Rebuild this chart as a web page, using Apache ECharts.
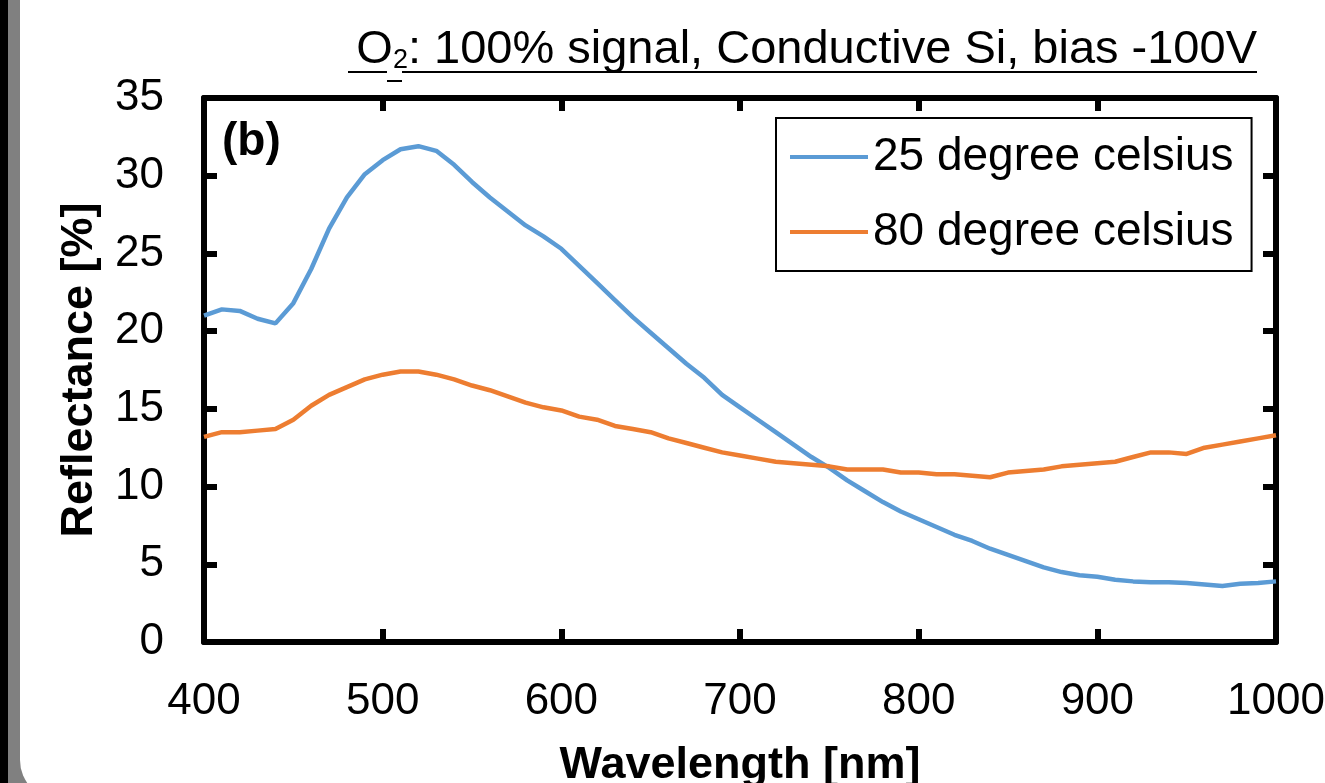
<!DOCTYPE html>
<html>
<head>
<meta charset="utf-8">
<script src="https://cdn.jsdelivr.net/npm/echarts@6/dist/echarts.min.js"></script>
<style>
html,body{margin:0;padding:0;background:#000;}
#chart{width:1325px;height:783px;}
</style>
</head>
<body>
<div id="chart"></div>
<script>
// wavelength [nm]
var wavelength = [400,410,420,430,440,450,460,470,480,490,500,510,520,530,540,550,560,570,580,590,
  600,610,620,630,640,650,660,670,680,690,700,710,720,730,740,750,760,770,780,790,
  800,810,820,830,840,850,860,870,880,890,900,910,920,930,940,950,960,970,980,990,1000];
// reflectance [%], 25 degree
var refl25 = [21.0,21.4,21.3,20.8,20.5,21.8,24.0,26.6,28.6,30.1,31.0,31.7,31.9,31.6,30.7,29.6,28.6,27.7,26.8,26.1,
  25.3,24.2,23.1,22.0,20.9,19.9,18.9,17.9,17.0,15.9,15.1,14.3,13.5,12.7,11.9,11.2,10.4,9.7,9.0,8.4,
  7.9,7.4,6.9,6.5,6.0,5.6,5.2,4.8,4.5,4.3,4.2,4.0,3.9,3.85,3.85,3.8,3.7,3.6,3.75,3.8,3.9];
// reflectance [%], 80 degree
var refl80 = [13.2,13.5,13.5,13.6,13.7,14.3,15.2,15.9,16.4,16.9,17.2,17.4,17.4,17.2,16.9,16.5,16.2,15.8,15.4,15.1,
  14.9,14.5,14.3,13.9,13.7,13.5,13.1,12.8,12.5,12.2,12.0,11.8,11.6,11.5,11.4,11.3,11.1,11.1,11.1,10.9,
  10.9,10.8,10.8,10.7,10.6,10.9,11.0,11.1,11.3,11.4,11.5,11.6,11.9,12.2,12.2,12.1,12.5,12.7,12.9,13.1,13.3];
var seriesNames = ['25 degree celsius','80 degree celsius'];

var toPairs = function(ys){
  var out = [];
  for (var i = 0; i < wavelength.length; i++) out.push([wavelength[i], ys[i]]);
  return out;
};

var FONT = 'Liberation Sans, Arial, sans-serif';
var chart = echarts.init(document.getElementById('chart'));

var axisCommon = {
  type: 'value',
  axisLine: {show: true, onZero: false, lineStyle: {color: '#000', width: 6}},
  axisTick: {show: true, inside: true, length: 13, lineStyle: {color: '#000', width: 6}},
  splitLine: {show: false}
};

option = {
  backgroundColor: 'transparent',
  animation: false,
  textStyle: {fontFamily: FONT},
  title: [
    {
      text: '{o|O}{sub|2}{o|: 100% signal, Conductive Si, bias -100V}',
      right: 68, top: 22, padding: 0,
      textStyle: {
        fontWeight: 'normal',
        rich: {
          o: {fontSize: 47, fontWeight: 'normal', fontFamily: FONT, color: '#000', lineHeight: 52, verticalAlign: 'bottom'},
          sub: {fontSize: 27, fontWeight: 'normal', fontFamily: FONT, color: '#000', lineHeight: 26, verticalAlign: 'bottom'}
        }
      }
    },
    {
      text: '(b)', left: 222, top: 119, padding: 0,
      textStyle: {fontSize: 46, fontWeight: 'bold', fontFamily: FONT, color: '#000'}
    }
  ],
  grid: {left: 204, right: 49, top: 98, bottom: 141, containLabel: false, outerBoundsMode: 'none'},
  legend: {
    data: seriesNames,
    orient: 'vertical',
    left: 776, top: 118,
    padding: [14, 18, 14, 14],
    borderColor: '#000', borderWidth: 2,
    backgroundColor: '#fff',
    icon: 'rect', itemWidth: 78, itemHeight: 4, itemGap: 25,
    textStyle: {fontSize: 46, fontFamily: FONT, color: '#000', lineHeight: 50}
  },
  xAxis: [
    Object.assign({}, axisCommon, {
      position: 'bottom', min: 400, max: 1000, interval: 100,
      axisLabel: {fontSize: 44, color: '#000', margin: 38, fontFamily: FONT, formatter: function(v){ return String(v); }},
      name: 'Wavelength [nm]', nameLocation: 'middle', nameGap: 101,
      nameTextStyle: {fontSize: 45, fontWeight: 'bold', color: '#000', fontFamily: FONT}
    }),
    Object.assign({}, axisCommon, {
      position: 'top', min: 400, max: 1000, interval: 100,
      axisLabel: {show: false}
    })
  ],
  yAxis: [
    Object.assign({}, axisCommon, {
      position: 'left', min: 0, max: 35, interval: 5,
      axisLabel: {fontSize: 44, color: '#000', margin: 40, fontFamily: FONT},
      name: 'Reflectance [%]', nameLocation: 'middle', nameGap: 102,
      nameTextStyle: {fontSize: 45, fontWeight: 'bold', color: '#000', fontFamily: FONT}
    }),
    Object.assign({}, axisCommon, {
      position: 'right', min: 0, max: 35, interval: 5,
      axisLabel: {show: false}
    })
  ],
  series: [
    {
      name: seriesNames[0], type: 'line', data: toPairs(refl25),
      showSymbol: false, symbol: 'none', smooth: false,
      color: '#5b9bd5', lineStyle: {color: '#5b9bd5', width: 4.5}, z: 3
    },
    {
      name: seriesNames[1], type: 'line', data: toPairs(refl80),
      showSymbol: false, symbol: 'none', smooth: false,
      color: '#ed7d31', lineStyle: {color: '#ed7d31', width: 4.5}, z: 3
    }
  ],
  graphic: [
    // window frame
    {type: 'rect', z: -20, shape: {x: 8, y: 0, width: 1330, height: 800}, style: {fill: '#808080'}},
    {type: 'rect', z: -19, shape: {x: 20, y: -50, width: 1320, height: 850, r: [0, 0, 0, 40]}, style: {fill: '#fff'}},
    // title underline
    {type: 'line', z: 10, shape: {x1: 348, y1: 72, x2: 387, y2: 72}, style: {stroke: '#000', lineWidth: 2}},
    {type: 'line', z: 10, shape: {x1: 387, y1: 81, x2: 402, y2: 81}, style: {stroke: '#000', lineWidth: 2}},
    {type: 'line', z: 10, shape: {x1: 402, y1: 72, x2: 1257, y2: 72}, style: {stroke: '#000', lineWidth: 2}}
  ]
};
chart.setOption(option);
</script>
</body>
</html>
